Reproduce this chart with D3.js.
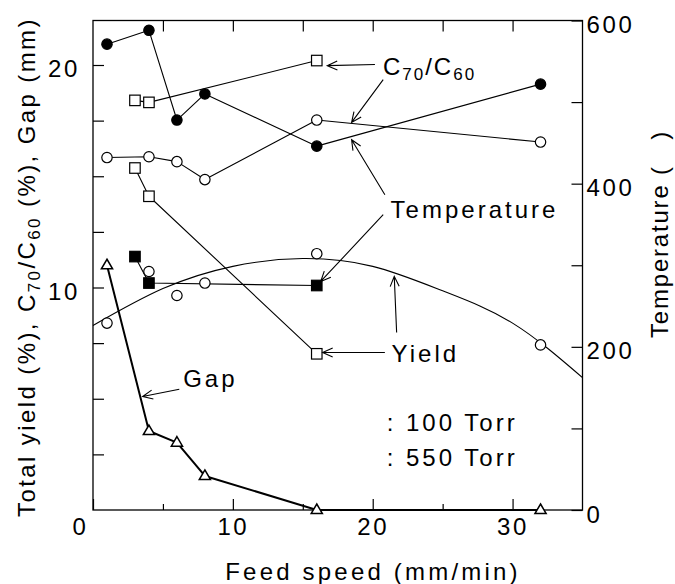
<!DOCTYPE html>
<html><head><meta charset="utf-8">
<script src="https://cdn.jsdelivr.net/npm/d3@7"></script>
<style>
body{margin:0;background:#fff}
text{font-family:"Liberation Sans",Arial,Helvetica,sans-serif;fill:#000}
</style>
</head><body>
<svg id="c" width="675" height="584"></svg>
<script>
// ---- data ----
const feedSpeed   = [1, 4, 6, 8, 16, 32];            // mm/min
const tempFilled  = [571, 588, 478, 510, 446, 522];   // Temperature, filled circles (right axis)
const tempOpen    = [432, 433, 427, 405, 478, 451];   // Temperature, open circles (right axis)
const sqSpeed     = [3, 4, 16];
const c70Open     = [18.41, 18.32, 20.2];             // C70/C60 (%), open squares
const yieldSqOpen = [15.37, 14.1, 7.02];              // yield, open squares
const yieldSqFill = [11.39, 10.2, 10.09];             // yield, filled squares
const yieldCirc   = [8.4, 10.72, 9.64, 10.2, 11.52, 7.42]; // total yield, open circles
const gapSpeed    = [1, 4, 6, 8, 16, 32];
const gapMM       = [11.0, 3.55, 3.03, 1.53, 0, 0];   // Gap (mm), open triangles
const fitSpeed    = [0, 5, 10, 15, 20, 25, 30, 35];   // fitted yield curve
const fitYield    = [8.29, 9.95, 10.95, 11.3, 10.95, 9.85, 8.4, 5.95];

const xMajor = [0, 10, 20, 30];
const xMinor = [5, 15, 25];
const xTop   = [5, 10, 15, 20, 25, 30];
const yLeftTicks  = [2.5, 5, 7.5, 10, 12.5, 15, 17.5, 20];
const yLeftLabels = [10, 20];
const yRightTicks = [0, 100, 200, 300, 400, 500, 600];
const yRightLabels= [0, 200, 400, 600];

// annotations (data coords: feed speed, left axis)
const annTexts = [
  {x: 21.35, y: 6.67, t: "Yield"},
  {x: 21.28, y: 13.12, t: "Temperature"},
  {x: 6.45, y: 5.52, t: "Gap"},
  {x: 21.0, y: 3.55, t: ": 100 Torr"},
  {x: 21.0, y: 1.96, t: ": 550 Torr"}
];
const arrows = [
  {x1: 20.16, y1: 20.02, x2: 16.75, y2: 19.97},
  {x1: 20.75, y1: 19.34, x2: 18.49, y2: 17.42},
  {x1: 20.87, y1: 14.17, x2: 18.49, y2: 16.64},
  {x1: 20.75, y1: 13.27, x2: 16.28, y2: 10.27},
  {x1: 20.87, y1: 7.08,  x2: 16.42, y2: 7.08},
  {x1: 21.71, y1: 7.98,  x2: 21.54, y2: 10.50},
  {x1: 6.17,  y1: 5.43,  x2: 3.55,  y2: 5.10}
];

// ---- layout ----
const L = 93, R = 582.5, T = 20.5, B = 510;
const x  = d3.scaleLinear().domain([0, 35]).range([L, R]);
const yL = d3.scaleLinear().domain([0, 22]).range([B, T]);
const yR = d3.scaleLinear().domain([0, 600]).range([B, T]);

const svg = d3.select("#c");
const FS = 24, LS = 2.6;

// frame
svg.append("rect").attr("x", L).attr("y", T).attr("width", R - L).attr("height", B - T)
  .attr("fill", "none").attr("stroke", "#000").attr("stroke-width", 1.3);

function styleAxis(g) {
  g.select(".domain").remove();
  g.selectAll(".tick line").attr("stroke", "#000").attr("stroke-width", 1.2);
  g.selectAll("text").attr("font-size", FS).attr("letter-spacing", LS)
    .attr("font-family", '"Liberation Sans",Arial,sans-serif').attr("fill", "#000");
}

// bottom axis
svg.append("g").attr("transform", `translate(0,${B})`)
  .call(d3.axisBottom(x).tickValues(xMajor).tickSize(-11).tickPadding(8).tickFormat(d3.format("d")))
  .call(styleAxis)
  .call(g => g.selectAll(".tick text").filter(d => d === 0).attr("dx", -13));
svg.append("g").attr("transform", `translate(0,${B})`)
  .call(d3.axisBottom(x).tickValues(xMinor).tickSize(-6).tickFormat(""))
  .call(styleAxis);
// top axis
svg.append("g").attr("transform", `translate(0,${T})`)
  .call(d3.axisTop(x).tickValues(xTop).tickSize(-11).tickFormat(""))
  .call(styleAxis);
// left axis
svg.append("g").attr("transform", `translate(${L},0)`)
  .call(d3.axisLeft(yL).tickValues(yLeftTicks).tickSize(-11).tickPadding(13)
        .tickFormat(d => yLeftLabels.includes(d) ? d3.format("d")(d) : ""))
  .call(styleAxis)
  .call(g => g.selectAll(".tick text").attr("dy", "0.48em"));
// right axis
svg.append("g").attr("transform", `translate(${R},0)`)
  .call(d3.axisRight(yR).tickValues(yRightTicks).tickSize(-11).tickPadding(4)
        .tickFormat(d => yRightLabels.includes(d) ? d3.format("d")(d) : ""))
  .call(styleAxis)
  .call(g => g.selectAll(".tick text").attr("dy", "0.5em"));

// ---- curves & lines ----
const plot = svg.append("g");
const fitLine = d3.line().x(d => x(d[0])).y(d => yL(d[1])).curve(d3.curveNatural);
plot.append("path").datum(d3.zip(fitSpeed, fitYield)).attr("d", fitLine)
  .attr("fill", "none").attr("stroke", "#000").attr("stroke-width", 1.1);

const lineL = d3.line().x(d => x(d[0])).y(d => yL(d[1]));
const lineR = d3.line().x(d => x(d[0])).y(d => yR(d[1]));
function drawLine(gen, pts, w) {
  plot.append("path").datum(pts).attr("d", gen).attr("fill", "none")
    .attr("stroke", "#000").attr("stroke-width", w).attr("stroke-linejoin", "round");
}
drawLine(lineR, d3.zip(feedSpeed, tempFilled), 1.1);
drawLine(lineR, d3.zip(feedSpeed, tempOpen), 1.1);
drawLine(lineL, d3.zip(sqSpeed, c70Open), 1.1);
drawLine(lineL, d3.zip(sqSpeed, yieldSqOpen), 1.1);
drawLine(lineL, d3.zip(sqSpeed, yieldSqFill), 1.1);
drawLine(lineL, d3.zip(gapSpeed, gapMM), 2);

// ---- markers ----
function circles(pts, yS, fill) {
  plot.append("g").selectAll("circle").data(pts).join("circle")
    .attr("cx", d => x(d[0])).attr("cy", d => yS(d[1])).attr("r", 5.2)
    .attr("fill", fill).attr("stroke", "#000").attr("stroke-width", 1.2);
}
function squares(pts, yS, fill) {
  const s = 10.5;
  plot.append("g").selectAll("rect").data(pts).join("rect")
    .attr("x", d => x(d[0]) - s / 2).attr("y", d => yS(d[1]) - s / 2)
    .attr("width", s).attr("height", s)
    .attr("fill", fill).attr("stroke", "#000").attr("stroke-width", 1.2);
}
function triangles(pts, yS) {
  plot.append("g").selectAll("path").data(pts).join("path")
    .attr("d", d => { const cx = x(d[0]), cy = yS(d[1]);
      return `M${cx},${cy - 6}L${cx + 5.6},${cy + 3.6}L${cx - 5.6},${cy + 3.6}Z`; })
    .attr("fill", "#fff").attr("stroke", "#000").attr("stroke-width", 1.5).attr("stroke-linejoin", "miter");
}
circles(d3.zip(feedSpeed, yieldCirc), yL, "#fff");
circles(d3.zip(feedSpeed, tempOpen), yR, "#fff");
circles(d3.zip(feedSpeed, tempFilled), yR, "#000");
squares(d3.zip(sqSpeed, c70Open), yL, "#fff");
squares(d3.zip(sqSpeed, yieldSqOpen), yL, "#fff");
squares(d3.zip(sqSpeed, yieldSqFill), yL, "#000");
triangles(d3.zip(gapSpeed, gapMM), yL);

// ---- arrows ----
const ag = svg.append("g").attr("stroke", "#000").attr("stroke-width", 1.1).attr("fill", "none");
arrows.forEach(a => {
  const x1 = x(a.x1), y1 = yL(a.y1), x2 = x(a.x2), y2 = yL(a.y2);
  const ang = Math.atan2(y1 - y2, x1 - x2), len = 11, spread = 0.42;
  const h1 = [x2 + len * Math.cos(ang + spread), y2 + len * Math.sin(ang + spread)];
  const h2 = [x2 + len * Math.cos(ang - spread), y2 + len * Math.sin(ang - spread)];
  ag.append("path").attr("d", `M${x1},${y1}L${x2},${y2}M${h1[0]},${h1[1]}L${x2},${y2}L${h2[0]},${h2[1]}`);
});

// ---- annotation texts ----
annTexts.forEach(a => {
  svg.append("text").attr("x", x(a.x)).attr("y", yL(a.y))
    .attr("font-size", FS).attr("letter-spacing", 3).text(a.t);
});
// C70/C60 label
const ct = svg.append("text").attr("x", x(20.73)).attr("y", yL(19.57))
  .attr("font-size", FS).attr("letter-spacing", 2);
ct.append("tspan").text("C");
ct.append("tspan").attr("font-size", 17).attr("dy", 5).text("70");
ct.append("tspan").attr("dy", -5).text("/C");
ct.append("tspan").attr("font-size", 17).attr("dy", 5).text("60");

// ---- axis titles ----
svg.append("text").attr("x", 373).attr("y", 580)
  .attr("text-anchor", "middle").attr("font-size", FS).attr("letter-spacing", 3.2)
  .text("Feed speed (mm/min)");

const lt = svg.append("text").attr("transform", "translate(35,267) rotate(-90)")
  .attr("text-anchor", "middle").attr("font-size", FS).attr("letter-spacing", 2.4);
lt.append("tspan").text("Total yield (%), C");
lt.append("tspan").attr("font-size", 17).attr("dy", 5).text("70");
lt.append("tspan").attr("dy", -5).text("/C");
lt.append("tspan").attr("font-size", 17).attr("dy", 5).text("60");
lt.append("tspan").attr("dy", -5).text(" (%), Gap (mm)");

svg.append("text").attr("transform", "translate(668,234) rotate(-90)")
  .attr("text-anchor", "middle").attr("font-size", FS).attr("letter-spacing", 1.8)
  .text("Temperature (\u00a0\u00a0\u00a0)");
</script>
</body></html>
